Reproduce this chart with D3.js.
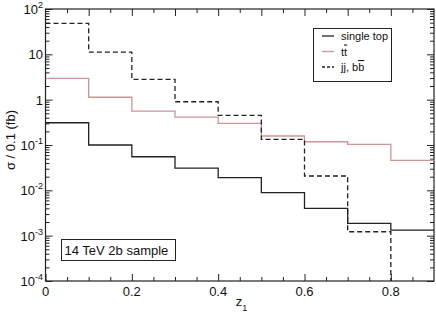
<!DOCTYPE html>
<html><head><meta charset="utf-8">
<script src="https://cdn.jsdelivr.net/npm/d3@7"></script>
<style>body{margin:0;background:#fff}svg{display:block;font-family:"Liberation Sans",Arial,Helvetica,sans-serif}</style>
</head><body><svg id="c" width="436" height="313"></svg>
<script>
// ---- data ----
const binEdges = [0, 0.1, 0.2, 0.3, 0.4, 0.5, 0.6, 0.7, 0.8, 0.9];
const singleTop = [0.31, 0.10, 0.055, 0.031, 0.019, 0.0089, 0.0040, 0.00187, 0.00133];
const ttbar = [2.96, 1.13, 0.56, 0.41, 0.30, 0.158, 0.118, 0.1035, 0.046];
const jjbb = [48, 11.2, 2.8, 0.90, 0.45, 0.133, 0.0207, 0.00122, 0];
const xMajorTicks = [0, 0.2, 0.4, 0.6, 0.8];
const xMinorTicks = [0.05,0.1,0.15,0.25,0.3,0.35,0.45,0.5,0.55,0.65,0.7,0.75,0.85];
const xTopMajor = [0.1,0.2,0.3,0.4,0.5,0.6,0.7,0.8];
const xTopMinor = [0.05,0.15,0.25,0.35,0.45,0.55,0.65,0.75,0.85];
const yExponents = [2, 1, 0, -1, -2, -3, -4];
const legendLabels = [
  [["single top", false]],
  [["t", false], ["t", true]],
  [["jj, b", false], ["b", true]]
];
const annotation = "14 TeV 2b sample";

// ---- layout ----
const L = 45.5, R = 434, T = 9, B = 281;
const svg = d3.select("#c");
const x = d3.scaleLinear().domain([0, 0.9]).range([L, R]);
const y = d3.scaleLog().domain([1e-4, 1e2]).range([B, T]);
const yv = v => v > 0 ? y(v) : B + 5;

svg.append("defs").append("clipPath").attr("id", "clip")
  .append("rect").attr("x", L).attr("y", T).attr("width", R - L).attr("height", B - T);

// minor log ticks
const yMinor = [];
for (let e = -4; e < 2; e++) for (let k = 2; k <= 9; k++) yMinor.push(k * Math.pow(10, e));
const yMajor = yExponents.map(e => Math.pow(10, e));

function axis(gen, scale, vals, size, tx, ty) {
  const g = svg.append("g").attr("transform", `translate(${tx},${ty})`)
    .call(gen(scale).tickValues(vals).tickSizeInner(size).tickSizeOuter(0).tickFormat(""));
  g.select(".domain").remove();
  g.selectAll(".tick line").attr("stroke", "#222").attr("stroke-width", 1);
  return g;
}
axis(d3.axisBottom, x, xMajorTicks, -7, 0, B);
axis(d3.axisBottom, x, xMinorTicks, -4, 0, B);
axis(d3.axisTop, x, xTopMajor, -7, 0, T);
axis(d3.axisTop, x, xTopMinor, -4, 0, T);
axis(d3.axisLeft, y, yMajor, -7, L, 0);
axis(d3.axisLeft, y, yMinor, -4, L, 0);
axis(d3.axisRight, y, yMajor, -7, R, 0);
axis(d3.axisRight, y, yMinor, -4, R, 0);

// frame
svg.append("rect").attr("x", L).attr("y", T).attr("width", R - L).attr("height", B - T)
  .attr("fill", "none").attr("stroke", "#222").attr("stroke-width", 1.2);

// x tick labels
svg.append("g").selectAll("text").data(xMajorTicks).join("text")
  .attr("x", d => x(d)).attr("y", B + 15).attr("text-anchor", "middle")
  .attr("font-size", 13).attr("fill", "#111")
  .text(d => d === 0 ? "0" : d3.format(".1f")(d));

// y tick labels
const yl = svg.append("g").selectAll("text").data(yExponents).join("text")
  .attr("x", 43).attr("y", d => y(Math.pow(10, d)) + 5).attr("text-anchor", "end")
  .attr("font-size", 13).attr("fill", "#111");
yl.each(function(e) {
  const t = d3.select(this);
  if (e === 0) t.text("1");
  else if (e === 1) t.text("10");
  else {
    t.append("tspan").text("10");
    t.append("tspan").attr("dy", -6).attr("font-size", 9).text(String(e).replace("-", "-"));
  }
});

// axis titles
const xt = svg.append("text").attr("x", (L + R) / 2 - 4).attr("y", 306).attr("font-size", 13)
  .attr("fill", "#111");
xt.append("tspan").text("z");
xt.append("tspan").attr("dy", 5).attr("font-size", 9).text("1");
svg.append("text").attr("transform", `translate(15,${(T + B) / 2 - 5}) rotate(-90)`)
  .attr("text-anchor", "middle").attr("font-size", 13).attr("fill", "#111")
  .text("σ / 0.1 (fb)");

// step histograms
const series = [
  { vals: singleTop, color: "#222", dash: null },
  { vals: ttbar, color: "#cf9494", dash: null },
  { vals: jjbb, color: "#222", dash: "5,3" }
];
const line = d3.line().x(d => x(d[0])).y(d => yv(d[1])).curve(d3.curveStepAfter);
const plot = svg.append("g").attr("clip-path", "url(#clip)");
series.forEach(s => {
  const pts = binEdges.map((e, i) => [e, s.vals[Math.min(i, s.vals.length - 1)]]);
  plot.append("path").attr("d", line(pts)).attr("fill", "none")
    .attr("stroke", s.color).attr("stroke-width", 1.3)
    .attr("stroke-dasharray", s.dash);
});

// legend
const lg = svg.append("g");
lg.append("rect").attr("x", 313.5).attr("y", 28.5).attr("width", 78).attr("height", 53)
  .attr("fill", "#fff").attr("stroke", "#222").attr("stroke-width", 1);
legendLabels.forEach((parts, i) => {
  const ly = 36 + i * 15.5;
  lg.append("line").attr("x1", 322).attr("x2", 334).attr("y1", ly).attr("y2", ly)
    .attr("stroke", series[i].color).attr("stroke-width", 1.3)
    .attr("stroke-dasharray", series[i].dash ? "3,2" : null);
  const t = lg.append("text").attr("x", 341).attr("y", ly + 4).attr("font-size", 11).attr("fill", "#111");
  parts.forEach(([txt, ov]) => {
    const sp = t.append("tspan").text(txt);
    if (ov) sp.style("text-decoration", "overline");
  });
});

// annotation box
svg.append("rect").attr("x", 61.5).attr("y", 239.5).attr("width", 114).attr("height", 21)
  .attr("fill", "#fff").attr("stroke", "#222").attr("stroke-width", 1);
svg.append("text").attr("x", 64.5).attr("y", 255).attr("font-size", 13).attr("fill", "#111")
  .text(annotation);
</script></body></html>
